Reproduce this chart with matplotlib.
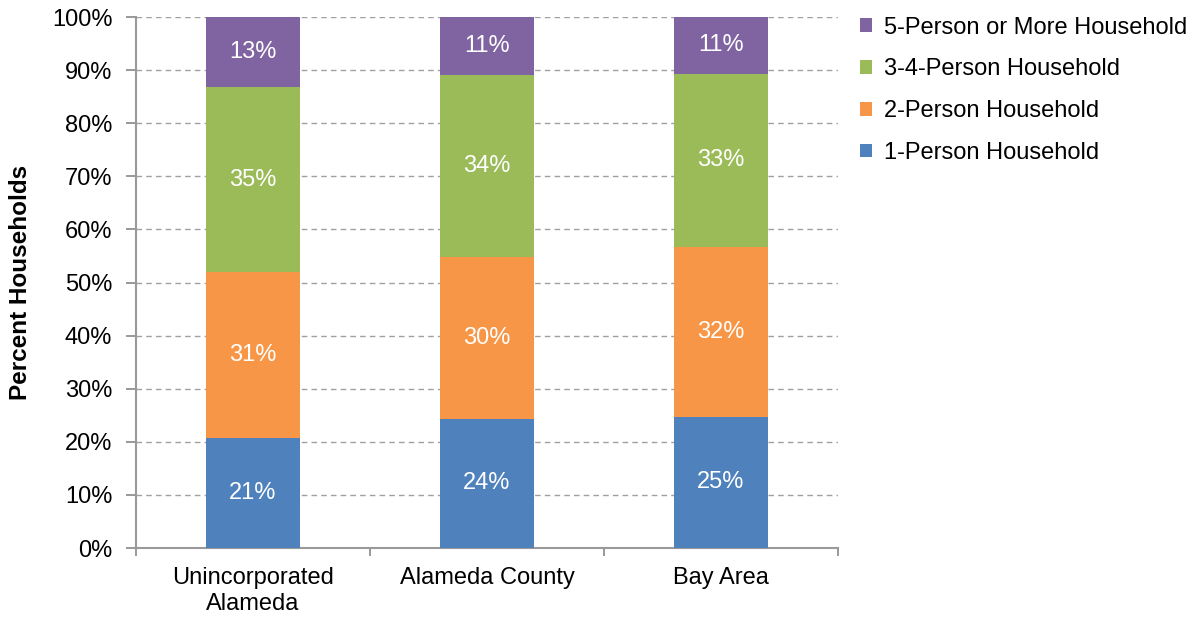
import matplotlib
matplotlib.use("Agg")
import matplotlib.pyplot as plt
import numpy as np
from matplotlib.ticker import FuncFormatter, FixedLocator

plt.rcParams['font.family'] = ['Liberation Sans', 'DejaVu Sans']

categories = ["Unincorporated\nAlameda", "Alameda County", "Bay Area"]
series_names = ["1-Person Household", "2-Person Household", "3-4-Person Household", "5-Person or More Household"]
one_person = [20.7, 24.3, 24.7]
two_person = [31.3, 30.5, 32.0]
three_four = [34.8, 34.3, 32.6]
five_plus = [13.2, 10.9, 10.7]
colors = ["#4F81BD", "#F79646", "#9BBB59", "#8064A2"]

FS = 17

fig = plt.figure(figsize=(12.01, 6.19), dpi=100)
ax = fig.add_axes([0.1132, 0.1147, 0.5846, 0.8578])

x = np.arange(len(categories))
bottom = np.zeros(len(categories))
handles = []
for vals, name, c in zip([one_person, two_person, three_four, five_plus], series_names, colors):
    vals = np.array(vals)
    b = ax.bar(x, vals, 0.4, bottom=bottom, color=c, label=name, zorder=3)
    handles.append(b)
    for xi, v, bt in zip(x, vals, bottom):
        ax.text(xi, bt + v / 2, f"{round(v):.0f}%", ha='center', va='center',
                color='white', fontsize=FS, zorder=4)
    bottom += vals

ax.set_xlim(-0.5, len(categories) - 0.5)
ax.set_ylim(0, 100)
ax.set_yticks(np.arange(0, 101, 10))
ax.yaxis.set_major_formatter(FuncFormatter(lambda v, p: f"{v:.0f}%"))
ax.yaxis.grid(True, linestyle=(0, (4, 3)), color='#A0A0A0', linewidth=1, zorder=0)
ax.tick_params(axis='y', labelsize=FS, colors='#888888', labelcolor='black', length=7, width=1.2, pad=10)

ax.set_xticks(x)
ax.set_xticklabels(categories, fontsize=FS, linespacing=1.18)
ax.tick_params(axis='x', length=0, pad=14)
ax.xaxis.set_minor_locator(FixedLocator(np.arange(-0.5, len(categories), 1.0)))
ax.tick_params(axis='x', which='minor', length=6, width=1.2, colors='#888888')

for s in ['top', 'right']:
    ax.spines[s].set_visible(False)
for s in ['left', 'bottom']:
    ax.spines[s].set_color('#999999')
    ax.spines[s].set_linewidth(1.5)

ax.set_ylabel("Percent Households", fontsize=17.5, fontweight='bold', labelpad=14)

leg = fig.legend(handles[::-1], series_names[::-1], loc='upper left',
                 bbox_to_anchor=(0.7025, 1.0), frameon=False, fontsize=FS,
                 handlelength=0.5, handleheight=0.5, handletextpad=0.5,
                 labelspacing=0.84, borderpad=0.2)

fig.savefig("out.png", dpi=100)
